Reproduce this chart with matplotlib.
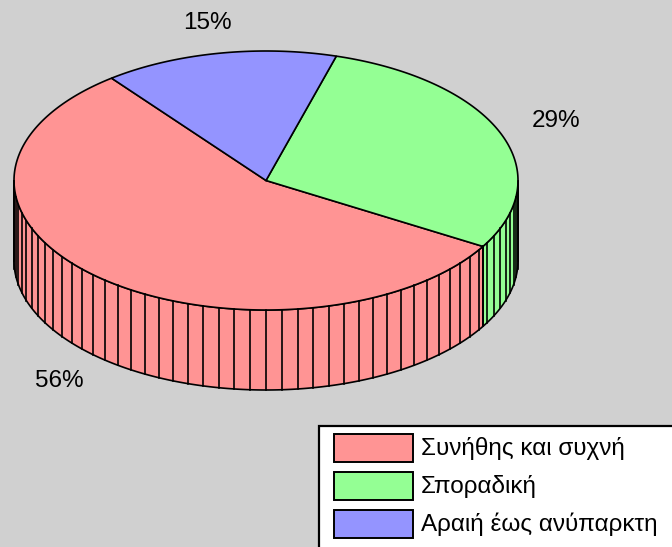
import numpy as np
import matplotlib.pyplot as plt
from matplotlib.patches import Polygon, Rectangle

# data
labels = ["Συνήθης και συχνή", "Σποραδική", "Αραιή έως ανύπαρκτη"]
values = [56, 29, 15]
colors = ["#FF9494", "#94FF94", "#9494FF"]
pct_text = ["56%", "29%", "15%"]

# pie geometry in pixels
cx, cy = 266, 180.5
a, b = 252, 129.5
depth = 80
start = 322.2      # first slice edge, clockwise from 12 o'clock
step = 3.6         # side facet spacing
lab_k = 1.24

plt.rcParams['font.family'] = ['Liberation Sans', 'DejaVu Sans']

fig = plt.figure(figsize=(6.72, 5.47), dpi=100)
fig.patch.set_facecolor('#D0D0D0')
ax = fig.add_axes([0, 0, 1, 1])
ax.set_xlim(0, 672)
ax.set_ylim(547, 0)
ax.axis('off')


def pt(t, dz=0.0, k=1.0):
    r = np.radians(t)
    return cx + a * k * np.sin(r), cy - b * k * np.cos(r) + dz


def arc(t0, t1, dz=0.0, n=None):
    if n is None:
        n = max(int(abs(t1 - t0)) * 2, 2)
    ts = np.linspace(t0, t1, n)
    x, y = pt(ts, dz)
    return np.column_stack([x, y])


# slices run counter-clockwise from the start edge
total = float(sum(values))
angles = []
t = start
for v in values:
    span = 360.0 * v / total
    angles.append((t - span, t))
    t -= span

# side walls (only the front half, 90..270 deg, is visible)
for (s, e), col in zip(angles, colors):
    for lo, hi in [(-270, -90), (90, 270), (450, 630)]:
        u, v = max(s, lo), min(e, hi)
        if v <= u:
            continue
        poly = np.vstack([arc(u, v), arc(v, u, depth)])
        ax.add_patch(Polygon(poly, closed=True, facecolor=col,
                             edgecolor='black', lw=1.2, joinstyle='miter'))
        grid = np.arange(lo, hi + 0.01, step)
        for g in np.concatenate([[u, v], grid[(grid > u) & (grid < v)]]):
            x0, y0 = pt(g)
            x1, y1 = pt(g, depth)
            ax.plot([x0, x1], [y0, y1], color='black', lw=1.2)

# top face
for (s, e), col in zip(angles, colors):
    poly = np.vstack([[cx, cy], arc(s, e)])
    ax.add_patch(Polygon(poly, closed=True, facecolor=col,
                         edgecolor='black', lw=1.2, joinstyle='miter'))

# percentage labels
for (s, e), txt in zip(angles, pct_text):
    m = (s + e) / 2.0
    x, y = pt(m, k=lab_k)
    if 90 < (m % 360) < 270:
        y += depth
    ax.text(x, y, txt, ha='center', va='center', fontsize=17.5, color='black')

# legend
ax.add_patch(Rectangle((319, 426), 400, 200, facecolor='white',
                       edgecolor='black', lw=1.6))
for i, (lab, col) in enumerate(zip(labels, colors)):
    y0 = 434 + i * 38
    ax.add_patch(Rectangle((334, y0), 79, 28, facecolor=col,
                           edgecolor='black', lw=1.4))
    ax.text(421, y0 + 14, lab, ha='left', va='center', fontsize=17.5,
            color='black')

fig.savefig('out.png', dpi=100, facecolor=fig.get_facecolor())
